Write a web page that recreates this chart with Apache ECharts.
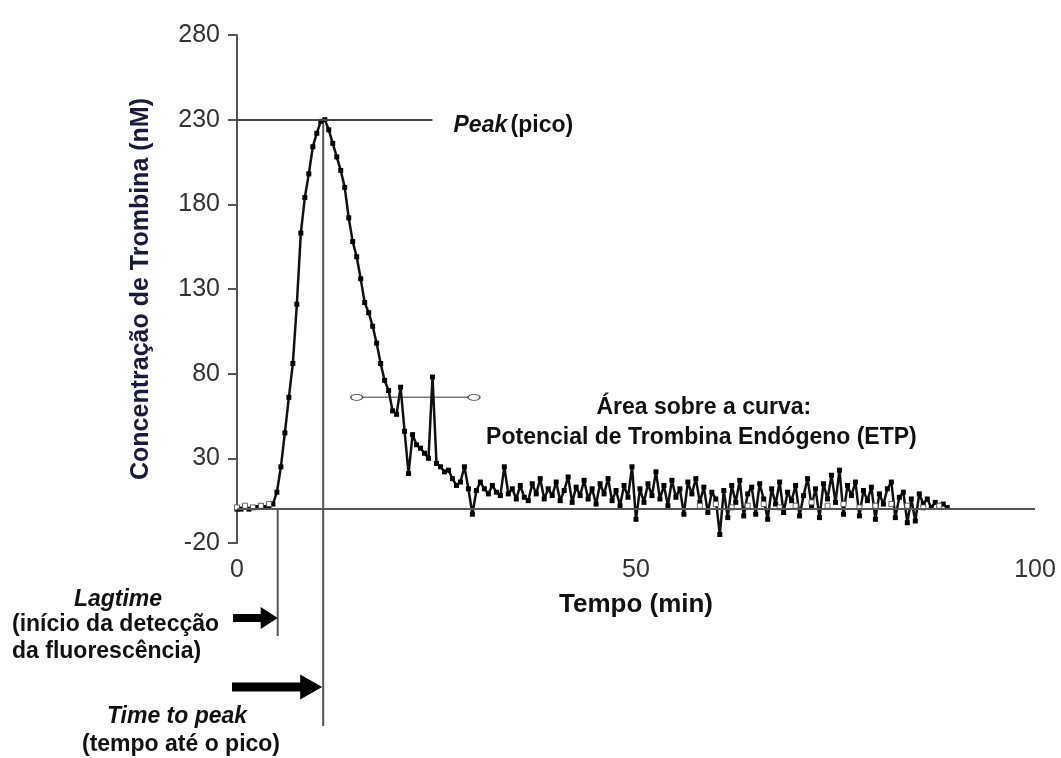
<!DOCTYPE html>
<html>
<head>
<meta charset="utf-8">
<script src="https://cdn.jsdelivr.net/npm/echarts@6/dist/echarts.min.js"></script>
<style>
html,body{margin:0;padding:0;background:#fff;}
#chart{width:1061px;height:758px;}
</style>
</head>
<body>
<div id="chart"></div>
<script>
// ---- data ----
const stepMinutes = 0.5;            // sampling interval of the thrombin trace
const thrombin = [
  0, 0, 1, 0, 1, 1, 2, 1, 2, 3,               // 0 - 4.5
  10, 25, 45, 66, 86, 121, 163, 184, 198, 214, // 5 - 9.5
  222, 229, 230, 224, 216, 208, 200, 190, 172, 158, // 10 - 14.5
  149, 136, 122, 116, 108, 98, 86, 76, 70, 58,  // 15 - 19.5
  56, 72, 46, 21, 44, 38, 36, 33, 30, 78,       // 20 - 24.5
  27, 25, 22, 23, 18, 14, 16, 25, 12, -3,       // 25 - 29.5
  11, 16, 12, 9, 14, 10, 8, 25, 9, 12,          // 30 - 34.5
  6, 14, 7, 5, 15, 9, 18, 6, 12, 8,             // 35 - 39.5
  16, 5, 11, 19, 4, 13, 8, 17, 6, 12,           // 40 - 44.5
  3, 15, 9, 18, 5, 11, 2, 14, 7, 25,            // 45 - 49.5
  -6, 12, 4, 15, 8, 22, 6, 14, 2, 17,           // 50 - 54.5
  7, 12, -3, 16, 9, 18, 4, 13, -2, 10,          // 55 - 59.5
  6, -15, 11, -5, 14, 4, 17, -4, 9, 13,         // 60 - 64.5
  -3, 15, 6, -6, 12, 3, 16, -2, 10, 5,          // 65 - 69.5
  14, -4, 8, 18, 2, 12, -5, 15, 6, 20,          // 70 - 74.5
  4, 23, -3, 14, 8, 16, -4, 11, 5, 13,          // 75 - 79.5
  -6, 9, 3, 12, 16, -5, 7, 10, -8, 6,           // 80 - 84.5
  -7, 9, 3, 6, 1, 4, 2, 3, 1                    // 85 - 89
];
// hollow (white) markers lying on the baseline
const hollowTime   = [0, 1, 2, 3, 4, 58, 60, 62, 64, 66, 68, 70, 72, 74, 76, 78, 80, 82, 84, 86, 88];
const hollowValues = [1, 2, 1, 2, 3, 2, 3, 1, 2, 3, 1, 2, 4, 2, 3, 1, 2, 3, 2, 1, 2];
// thin grey segment near 66 nM
const segTime   = [15, 29.7];
const segValues = [66, 66];

const xTicks = [0, 50, 100];
const yTicks = [-20, 30, 80, 130, 180, 230, 280];
const peakValue = 230;
const timeToPeak = 10.8;
const lagTime = 5.1;
const peakLineEnd = 24.5;

// ---- chart ----
const FONT = '"Liberation Sans", Arial, sans-serif';
const mainData = thrombin.map((v, i) => [i * stepMinutes, v]);
const hollowData = hollowTime.map((t, i) => [t, hollowValues[i]]);
const segData = segTime.map((t, i) => [t, segValues[i]]);

const chart = echarts.init(document.getElementById('chart'), null, {renderer: 'canvas'});
const option = {
  animation: false,
  backgroundColor: '#fff',
  grid: {left: 237, right: 26, top: 35, bottom: 215, containLabel: false},
  xAxis: {
    type: 'value', min: xTicks[0], max: xTicks[xTicks.length - 1], interval: 50,
    axisLine: {show: false, onZero: false},
    axisTick: {show: false},
    splitLine: {show: false},
    axisLabel: {margin: 15, fontSize: 25, color: '#333', fontFamily: FONT},
    name: 'Tempo (min)', nameLocation: 'middle', nameGap: 49,
    nameTextStyle: {fontSize: 26, fontWeight: 'bold', color: '#111', fontFamily: FONT}
  },
  yAxis: {
    type: 'value', min: yTicks[0], max: yTicks[yTicks.length - 1], interval: 50,
    axisLine: {show: true, onZero: false, lineStyle: {color: '#555', width: 2}},
    axisTick: {show: true, length: 9, lineStyle: {color: '#555', width: 2}},
    splitLine: {show: false},
    axisLabel: {margin: 17, fontSize: 25, color: '#333', fontFamily: FONT},
    name: 'Concentração de Trombina (nM)', nameLocation: 'middle', nameGap: 83,
    nameTextStyle: {fontSize: 25, fontWeight: 'bold', color: '#1a1a3a', fontFamily: FONT}
  },
  series: [
    {
      type: 'line', name: 'Trombina', data: mainData,
      symbol: 'rect', symbolSize: 5, showAllSymbol: true,
      itemStyle: {color: '#000'},
      lineStyle: {color: '#111', width: 2.5},
      z: 3,
      markLine: {
        silent: true, symbol: ['none', 'none'], label: {show: false},
        data: [
          {yAxis: 0, lineStyle: {color: '#555', width: 2, type: 'solid'}},
          [{coord: [0, peakValue]}, {coord: [peakLineEnd, peakValue]}]
        ],
        lineStyle: {color: '#444', width: 2, type: 'solid'}
      }
    },
    {
      type: 'line', name: 'Marcadores', data: hollowData,
      symbol: 'rect', symbolSize: 5, showAllSymbol: true,
      itemStyle: {color: '#fff', borderColor: '#444', borderWidth: 0.8},
      lineStyle: {width: 0},
      z: 4
    },
    {
      type: 'line', name: 'Segmento', data: segData,
      symbol: 'circle', symbolSize: [12, 6], showAllSymbol: true,
      itemStyle: {color: '#fff', borderColor: '#444', borderWidth: 1},
      lineStyle: {color: '#777', width: 1.5},
      z: 2
    }
  ]
};
chart.setOption(option);

// ---- annotations placed from data coordinates ----
const px = (t, v) => chart.convertToPixel({gridIndex: 0}, [t, v]);
const base = px(lagTime, 0);
const peak = px(timeToPeak, peakValue);
const bottom = px(0, yTicks[0]);
const lagBottom = bottom[1] + 93;
const peakBottom = bottom[1] + 183;
const lineStyle = {stroke: '#555', lineWidth: 2};

function arrow(x0, tipX, y, shaft, headH, headL) {
  const hx = tipX - headL;
  return {
    type: 'polygon',
    shape: {points: [
      [x0, y - shaft / 2], [hx, y - shaft / 2], [hx, y - headH / 2], [tipX, y],
      [hx, y + headH / 2], [hx, y + shaft / 2], [x0, y + shaft / 2]
    ]},
    style: {fill: '#000'}
  };
}
function txt(text, x, y, align, font) {
  return {type: 'text', x: x, y: y,
    style: {text: text, align: align, verticalAlign: 'middle', font: font, fill: '#111'}};
}
const B = 'bold 23px ' + FONT;
const BI = 'italic bold 23px ' + FONT;
const pk = px(peakLineEnd, peakValue);
const area1 = px(58.5, 60);
const area2 = px(58.2, 42.5);

chart.setOption({graphic: [
  {type: 'line', shape: {x1: base[0], y1: base[1], x2: base[0], y2: lagBottom}, style: lineStyle},
  {type: 'line', shape: {x1: peak[0], y1: peak[1], x2: peak[0], y2: peakBottom}, style: lineStyle},
  arrow(bottom[0] - 4, base[0], bottom[1] + 75, 8, 22, 17),
  arrow(bottom[0] - 5, peak[0] - 1, bottom[1] + 144, 9, 25, 22),
  {type: 'text', x: pk[0] + 21, y: pk[1] + 6,
    style: {text: '{i|Peak} {b|(pico)}', verticalAlign: 'middle', align: 'left',
      rich: {i: {font: BI, fill: '#111'}, b: {font: B, fill: '#111'}}}},
  txt('Área sobre a curva:', area1[0], area1[1], 'center', B),
  txt('Potencial de Trombina Endógeno (ETP)', area2[0], area2[1], 'center', B),
  txt('Lagtime', 118, bottom[1] + 57, 'center', BI),
  txt('(início da detecção', 12, bottom[1] + 82, 'left', B),
  txt('da fluorescência)', 12, bottom[1] + 109, 'left', B),
  txt('Time to peak', 177, bottom[1] + 174, 'center', BI),
  txt('(tempo até o pico)', 181, bottom[1] + 202, 'center', B)
]});
</script>
</body>
</html>
